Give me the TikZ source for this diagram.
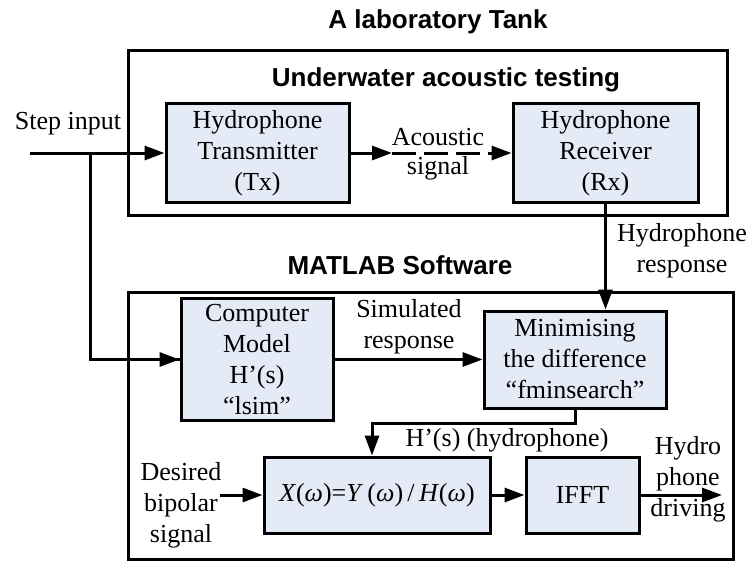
\documentclass[tikz,border=0pt]{standalone}
\usepackage{fontspec}
\setmainfont{Liberation Serif}
\newfontfamily\titlefont{Liberation Sans}
\usetikzlibrary{arrows.meta,calc}
\definecolor{boxfill}{RGB}{228,234,246}
\tikzset{
  blk/.style={draw=black, line width=1.5pt, fill=boxfill, align=center, inner sep=0pt,
    font=\fontsize{13}{15.5}\selectfont},
  lbl/.style={align=center, inner sep=0pt, font=\fontsize{13}{15.5}\selectfont},
  ttl/.style={inner sep=0pt, font=\titlefont\bfseries\fontsize{13}{15}\selectfont},
  frame/.style={draw=black, line width=1.5pt},
  conn/.style={line width=1.5pt, -{Triangle[length=10pt,width=7pt]}},
  plain/.style={line width=1.5pt}
}
\begin{document}
\begin{tikzpicture}[x=0.5pt,y=-0.5pt]
\useasboundingbox (0,0) rectangle (750,563);
% outer frames
\draw[frame] (128,50) rectangle (727,215);
\draw[frame] (128,292) rectangle (733,559);
% titles
\node[ttl] (t1) at (438,22) {A laboratory Tank};
\node[ttl] (t2) at (446,80) {Underwater acoustic testing};
\node[ttl] (t3) at (400,265) {MATLAB Software};
% blocks
\node[blk, minimum width=91.5pt, minimum height=49.5pt] (Tx) at (257.5,153) {Hydrophone\\Transmitter\\(Tx)};
\node[blk, minimum width=92.5pt, minimum height=49.5pt] (Rx) at (605.5,153) {Hydrophone\\Receiver\\(Rx)};
\node[blk, minimum width=76pt, minimum height=61pt] (CM) at (257,359.5) {Computer\\Model\\H’(s)\\“lsim”};
\node[blk, minimum width=91pt, minimum height=48.5pt] (Min) at (575,359.5) {Minimising\\the difference\\“fminsearch”};
\node[blk, minimum width=113pt, minimum height=38pt] (X) at (377,495) {\textit{X}(\textit{ω})=\textit{Y}\,(\textit{ω})\,/\,\textit{H}(\textit{ω})};
\node[blk, minimum width=56.5pt, minimum height=38pt] (IF) at (582.5,495) {IFFT};
% labels
\node[lbl] (step) at (68,124) {Step input};
\node[lbl] (ac1) at (438,137) {Acoustic};
\node[lbl] (ac2) at (438,168) {signal};
\node[lbl] (hr) at (682,251) {Hydrophone\\response};
\node[lbl] (sr) at (409,327) {Simulated\\response};
\node[lbl] (hh) at (507,440) {H’(s) (hydrophone)};
\node[lbl] (des) at (181,505) {Desired\\bipolar\\signal};
\node[lbl] (drv) at (688,479) {Hydro\\phone\\driving};
% connector ends
\coordinate (in) at (30,153);
\coordinate (br) at (90,153);
\coordinate (mid) at (392,153);
\coordinate (din) at (220,495);
\coordinate (out) at (722,495);
% connectors
\draw[conn] (in) -- (Tx.west);
\draw[plain] (br) |- (CM.west);
\draw[conn] (br |- CM.west) -- (CM.west);
\draw[conn] (Tx.east) -- (mid);
\draw[conn, dash pattern=on 12pt off 4pt] (mid) -- (Rx.west);
\draw[conn] (Rx.south) -- (Rx.south |- Min.north);
\draw[conn] (CM.east) -- (Min.west);
\draw[conn] (Min.south) -- ++(0,14) -| ($(X.north)+(-5,0)$);
\draw[conn] (din) -- (X.west);
\draw[conn] (X.east) -- (IF.west);
\draw[conn] (IF.east) -- (out);
\end{tikzpicture}
\end{document}
